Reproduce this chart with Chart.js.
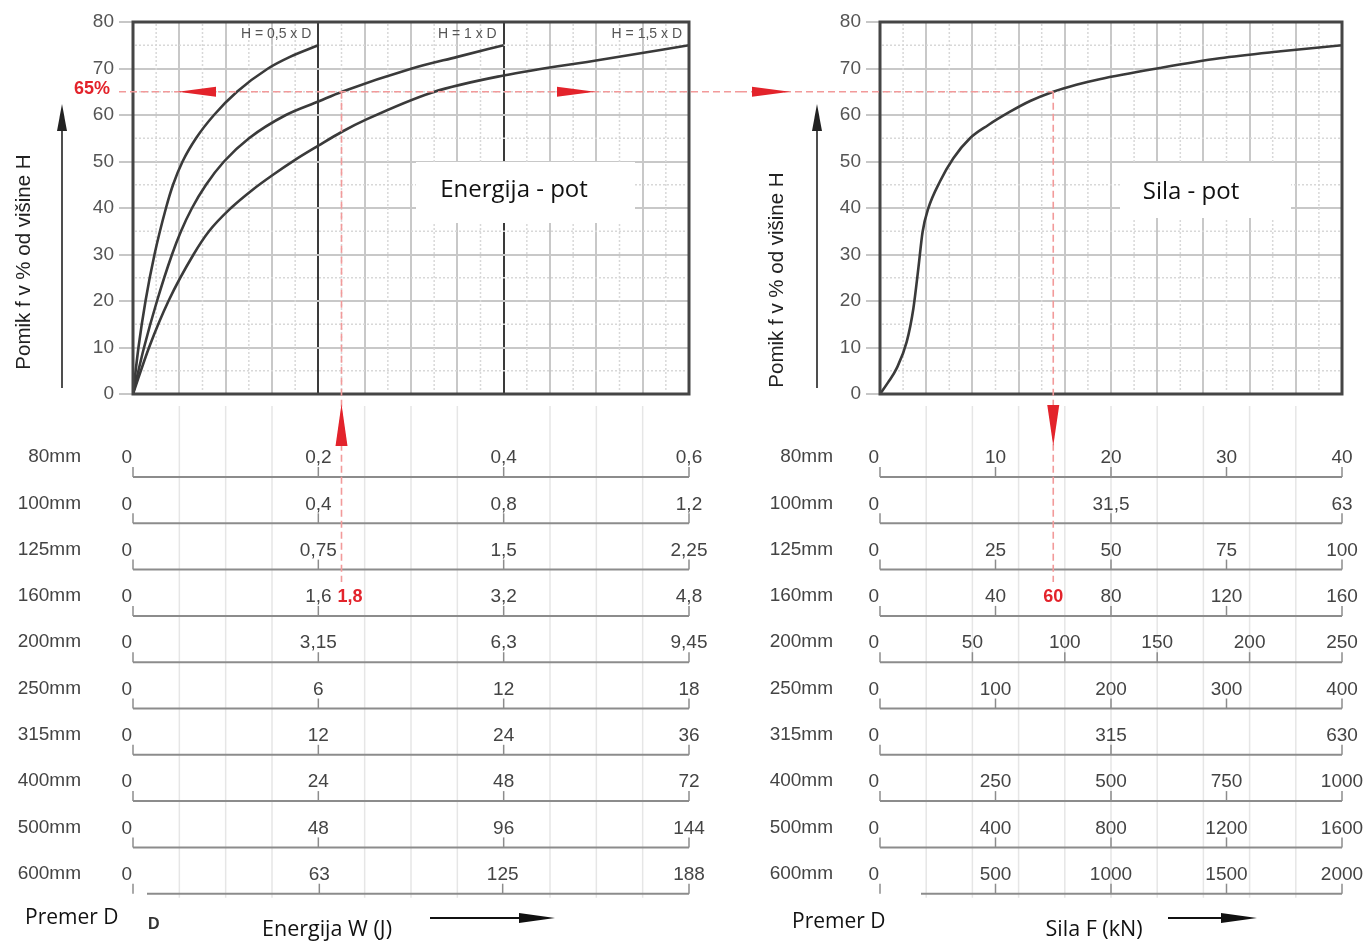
<!DOCTYPE html>
<html>
<head>
<meta charset="utf-8">
<title>Energija - pot / Sila - pot</title>
<script src="https://cdn.jsdelivr.net/npm/chart.js@4.4.0/dist/chart.umd.min.js"></script>
<style>
  html, body { margin: 0; padding: 0; background: #fff; }
  #wrap { position: relative; width: 1368px; height: 942px; overflow: hidden; }
  #energy { position: absolute; left: 0; top: 0; }
  #force { position: absolute; left: 740px; top: 0; }
</style>
</head>
<body>
<div id="wrap">
  <canvas id="energy" width="740" height="942"></canvas>
  <canvas id="force" width="628" height="942"></canvas>
</div>
<script>
// ---- data ----
// energy curves, x in J for the 80mm row (0 .. 0.6), y in % of height H
const energyX05 = [0, 0.0059, 0.0135, 0.0232, 0.0356, 0.0432, 0.0535, 0.068, 0.0874, 0.1122, 0.1457, 0.1694, 0.2];
const energyY05 = [0, 10, 20, 30, 40, 45, 50, 55, 60, 65, 70, 72.5, 75];
const energyX10 = [0, 0.0119, 0.0259, 0.0421, 0.0518, 0.0637, 0.0788, 0.0982, 0.1252, 0.165, 0.2, 0.2255, 0.301, 0.35, 0.4];
const energyY10 = [0, 10, 20, 30, 35, 40, 45, 50, 55, 60, 62.9, 65, 70, 72.5, 75];
const energyX15 = [0, 0.0173, 0.0383, 0.0653, 0.082, 0.1057, 0.1295, 0.15, 0.1737, 0.2, 0.2255, 0.2525, 0.3237, 0.4, 0.5047, 0.6];
const energyY15 = [0, 10, 20, 30, 35, 40, 44, 47, 50.2, 53.4, 56.4, 59.1, 64.9, 68.5, 71.9, 75];

// force curve, x in kN for the 80mm row (0 .. 40)
const forceX = [0, 0.7, 1.44, 2.31, 2.89, 3.32, 3.69, 4.18, 5.19, 6.35, 7.79, 9.35, 11.26, 13, 15, 17, 19, 24.2, 29.4, 34.7, 40];
const forceY = [0, 2.5, 5.5, 11.2, 18.4, 27.0, 34.9, 39.9, 45.7, 50.7, 55.0, 57.8, 60.7, 63.0, 65, 66.5, 67.7, 70.1, 72.2, 73.7, 75];

const zoneLabels = ['H = 0,5 x D', 'H = 1 x D', 'H = 1,5 x D'];
const zoneEnds = [0.2, 0.4, 0.6];

const diameters = ['80mm', '100mm', '125mm', '160mm', '200mm', '250mm', '315mm', '400mm', '500mm', '600mm'];
const energyRowMax = [0.6, 1.2, 2.25, 4.8, 9.45, 18, 36, 72, 144, 188];
const energyRowTicks = [
  [0, 0.2, 0.4, 0.6], [0, 0.4, 0.8, 1.2], [0, 0.75, 1.5, 2.25], [0, 1.6, 3.2, 4.8], [0, 3.15, 6.3, 9.45],
  [0, 6, 12, 18], [0, 12, 24, 36], [0, 24, 48, 72], [0, 48, 96, 144], [0, 63, 125, 188]
];
const forceRowMax = [40, 63, 100, 160, 250, 400, 630, 1000, 1600, 2000];
const forceRowTicks = [
  [0, 10, 20, 30, 40], [0, 31.5, 63], [0, 25, 50, 75, 100], [0, 40, 80, 120, 160], [0, 50, 100, 150, 200, 250],
  [0, 100, 200, 300, 400], [0, 315, 630], [0, 250, 500, 750, 1000], [0, 400, 800, 1200, 1600], [0, 500, 1000, 1500, 2000]
];

// worked example: 160mm row, 65 %
const markerPercent = 65;
const markerRow = 3;
const energyMarker = 1.8;
const forceMarker = 60;

// ---- drawing ----
const RED = '#e3232b';
const ROW_TOP = 477, ROW_GAP = 46.3;
const rowLineY = i => ROW_TOP + i * ROW_GAP;
const fmt = v => String(v).replace('.', ',');
const ARIAL = '"Liberation Sans", Arial, sans-serif';
const CALIBRI = '"Open Sans", sans-serif';

function seg(ctx, x1, y1, x2, y2) {
  ctx.beginPath(); ctx.moveTo(x1, y1); ctx.lineTo(x2, y2); ctx.stroke();
}
function tri(ctx, pts, color) {
  ctx.beginPath();
  ctx.moveTo(pts[0][0], pts[0][1]); ctx.lineTo(pts[1][0], pts[1][1]); ctx.lineTo(pts[2][0], pts[2][1]);
  ctx.closePath(); ctx.fillStyle = color; ctx.fill();
}

function panelPlugin(p) {
  return {
    id: 'panel_' + p.name,
    beforeDatasetsDraw(chart) {
      const { ctx, chartArea: a, scales: { x, y } } = chart;
      const step = p.rowMax[0] / p.xCount;
      ctx.save();
      // dotted minor grid
      ctx.strokeStyle = '#d8d8d8'; ctx.lineWidth = 1.5; ctx.setLineDash([2, 2]);
      for (let i = 0; i < p.xCount; i++) {
        const px = x.getPixelForValue((i + 0.5) * step);
        seg(ctx, px, a.top + 2, px, a.bottom - 2);
      }
      for (let v = 5; v < 80; v += 10) {
        const py = y.getPixelForValue(v);
        seg(ctx, a.left + 2, py, a.right - 2, py);
      }
      ctx.setLineDash([]);
      // title box
      ctx.fillStyle = '#fff';
      ctx.fillRect(p.box[0], p.box[1], p.box[2], p.box[3]);
      ctx.fillStyle = '#111'; ctx.font = '24px ' + CALIBRI;
      ctx.textAlign = 'center'; ctx.textBaseline = 'middle';
      ctx.fillText(p.boxText, p.boxTextAt[0], p.boxTextAt[1]);
      ctx.restore();
    },
    afterDraw(chart) {
      const { ctx, chartArea: a, scales: { x, y } } = chart;
      const xMax = p.rowMax[0], step = xMax / p.xCount;
      const toX = (v, row) => x.getPixelForValue(v / p.rowMax[row] * xMax);
      ctx.save();

      // frame
      ctx.strokeStyle = '#454545'; ctx.lineWidth = 3;
      ctx.strokeRect(a.left, a.top, a.right - a.left, a.bottom - a.top);

      // zone headers
      ctx.fillStyle = '#555'; ctx.font = '14px ' + ARIAL;
      ctx.textAlign = 'right'; ctx.textBaseline = 'middle';
      (p.zones || []).forEach((z, i) => ctx.fillText(z, x.getPixelForValue(p.zoneEnds[i]) - 7, a.top + 12));

      // y title + arrow
      ctx.save();
      ctx.translate(p.titleX, p.titleY); ctx.rotate(-Math.PI / 2);
      ctx.fillStyle = '#222'; ctx.font = '20.5px ' + ARIAL; ctx.textAlign = 'center';
      ctx.fillText('Pomik f v % od višine H', 0, 0);
      ctx.restore();
      ctx.strokeStyle = '#222'; ctx.lineWidth = 1.6;
      seg(ctx, p.arrowX, 388, p.arrowX, 125);
      tri(ctx, [[p.arrowX, 104], [p.arrowX - 5, 131], [p.arrowX + 5, 131]], '#222');

      // light guides under the scales
      ctx.strokeStyle = '#e6e6e6'; ctx.lineWidth = 1.5;
      for (let i = 1; i < p.xCount; i++) {
        const v = i * step;
        if (p.dividers.some(d => Math.abs(d - v) < 1e-9)) continue;
        const px = x.getPixelForValue(v);
        seg(ctx, px, a.bottom + 12, px, rowLineY(diameters.length - 1) + 4);
      }

      // diameter scales
      diameters.forEach((d, r) => {
        const ly = rowLineY(r);
        ctx.fillStyle = '#444'; ctx.font = '19px ' + ARIAL;
        ctx.textAlign = 'right'; ctx.textBaseline = 'middle';
        ctx.fillText(d, p.mmX, ly - 20);
        ctx.strokeStyle = '#8c8c8c'; ctx.lineWidth = 2;
        const start = r === diameters.length - 1 ? toX(0, r) + p.lastRowInset : toX(0, r);
        seg(ctx, start, ly, toX(p.rowMax[r], r), ly);
        ctx.lineWidth = 1.5;
        p.rowTicks[r].forEach(v => {
          const px = toX(v, r);
          seg(ctx, px, ly, px, ly - 10);
          ctx.fillStyle = '#444';
          ctx.textAlign = v === 0 ? 'right' : 'center';
          ctx.fillText(fmt(v), v === 0 ? px - 1 : px, ly - 19);
        });
      });

      // worked example in red
      const y65 = y.getPixelForValue(markerPercent);
      const mx = toX(p.markerValue, markerRow);
      ctx.strokeStyle = '#f29a9a'; ctx.lineWidth = 1.6; ctx.setLineDash([7, 4]);
      seg(ctx, p.lineFrom(a), y65, p.lineTo(a, mx, chart.width), y65);
      seg(ctx, mx, y65, mx, rowLineY(markerRow) - 34);
      ctx.setLineDash([]);
      p.hArrows(a).forEach(([tip, dir]) => {
        tri(ctx, [[tip, y65], [tip - dir * 38, y65 - 5], [tip - dir * 38, y65 + 5]], RED);
      });
      if (p.arrowUp) tri(ctx, [[mx, 404], [mx - 6, 446], [mx + 6, 446]], RED);
      else tri(ctx, [[mx, 446], [mx - 6, 405], [mx + 6, 405]], RED);
      ctx.fillStyle = RED; ctx.font = 'bold 18px ' + ARIAL; ctx.textBaseline = 'middle';
      ctx.textAlign = p.markerAlign;
      ctx.fillText(fmt(p.markerValue), p.markerAlign === 'left' ? mx - 4 : mx, rowLineY(markerRow) - 19);
      if (p.showPercent) {
        ctx.font = 'bold 18px ' + ARIAL; ctx.textAlign = 'center';
        ctx.fillText(markerPercent + '%', a.left - 41, y65 - 3);
      }

      // bottom captions
      ctx.fillStyle = '#111'; ctx.font = '21px ' + CALIBRI; ctx.textBaseline = 'middle';
      ctx.textAlign = 'left';
      ctx.fillText('Premer D', p.premerX, p.premerY);
      if (p.showD) {
        ctx.fillStyle = '#333'; ctx.font = 'bold 16px ' + ARIAL;
        ctx.fillText('D', 148, 925);
      }
      ctx.fillStyle = '#111'; ctx.font = '21.5px ' + CALIBRI; ctx.textAlign = 'center';
      ctx.fillText(p.xTitle, p.xTitleX, 930);
      ctx.strokeStyle = '#111'; ctx.lineWidth = 2;
      seg(ctx, p.xArrow[0], 918, p.xArrow[1] - 34, 918);
      tri(ctx, [[p.xArrow[1], 918], [p.xArrow[1] - 36, 913], [p.xArrow[1] - 36, 923]], '#111');

      ctx.restore();
    }
  };
}

function makeChart(id, datasets, p) {
  const xMax = p.rowMax[0];
  return new Chart(document.getElementById(id), {
    type: 'line',
    data: { datasets },
    options: {
      responsive: false,
      animation: false,
      devicePixelRatio: 1,
      events: [],
      layout: { padding: { left: 0, top: 22, right: p.padRight, bottom: 942 - 394 } },
      plugins: { legend: { display: false }, tooltip: { enabled: false } },
      elements: { point: { radius: 0 } },
      scales: {
        x: {
          type: 'linear', min: 0, max: xMax,
          ticks: { display: false, stepSize: xMax / p.xCount },
          grid: {
            drawTicks: false,
            color: c => p.dividers.some(d => Math.abs(d - c.tick.value) < 1e-9) ? '#3a3a3a' : '#c8c8c8',
            lineWidth: 2
          },
          border: { display: false },
          afterFit(s) { s.height = 0; s.paddingLeft = 0; s.paddingRight = 0; }
        },
        y: {
          min: 0, max: 80,
          ticks: { stepSize: 10, color: '#555', padding: 5, font: { family: ARIAL, size: 19 } },
          grid: { color: '#c8c8c8', lineWidth: 2, tickColor: '#b4b4b4', tickLength: 14, tickWidth: 1.5 },
          border: { display: false },
          afterFit(s) { s.width = p.axisWidth; s.paddingTop = 0; s.paddingBottom = 0; }
        }
      }
    },
    plugins: [panelPlugin(p)]
  });
}

const curveStyle = {
  borderColor: '#3a3a3a', borderWidth: 2.6, fill: false,
  cubicInterpolationMode: 'monotone', pointRadius: 0
};
const pts = (xs, ys) => xs.map((v, i) => ({ x: v, y: ys[i] }));

makeChart('energy', [
  { label: zoneLabels[0], data: pts(energyX05, energyY05), ...curveStyle },
  { label: zoneLabels[1], data: pts(energyX10, energyY10), ...curveStyle },
  { label: zoneLabels[2], data: pts(energyX15, energyY15), ...curveStyle }
], {
  name: 'energy',
  rowMax: energyRowMax, rowTicks: energyRowTicks,
  xCount: 12, dividers: [zoneEnds[0], zoneEnds[1]],
  zones: zoneLabels, zoneEnds: zoneEnds,
  padRight: 740 - 689, axisWidth: 133,
  box: [416, 162, 219, 61], boxText: 'Energija - pot', boxTextAt: [514, 190],
  titleX: 24, titleY: 262, arrowX: 62, mmX: 81, lastRowInset: 14,
  markerValue: energyMarker, markerAlign: 'left', arrowUp: true, showPercent: true,
  lineFrom: a => a.left - 14, lineTo: (a, mx, w) => w,
  hArrows: a => [[a.left + 45, -1], [a.left + 462, 1]],
  premerX: 25, premerY: 918, showD: true,
  xTitle: 'Energija W (J)', xTitleX: 327, xArrow: [430, 555]
});

makeChart('force', [
  { label: 'Sila - pot', data: pts(forceX, forceY), ...curveStyle }
], {
  name: 'force',
  rowMax: forceRowMax, rowTicks: forceRowTicks,
  xCount: 10, dividers: [],
  padRight: 628 - 602, axisWidth: 140,
  box: [380, 163, 171, 55], boxText: 'Sila - pot', boxTextAt: [451, 192],
  titleX: 37, titleY: 280, arrowX: 77, mmX: 93, lastRowInset: 41,
  markerValue: forceMarker, markerAlign: 'center', arrowUp: false, showPercent: false,
  lineFrom: a => 0, lineTo: (a, mx, w) => mx,
  hArrows: a => [[50, 1]],
  premerX: 52, premerY: 922, showD: false,
  xTitle: 'Sila F (kN)', xTitleX: 354, xArrow: [428, 517]
});
</script>
</body>
</html>
